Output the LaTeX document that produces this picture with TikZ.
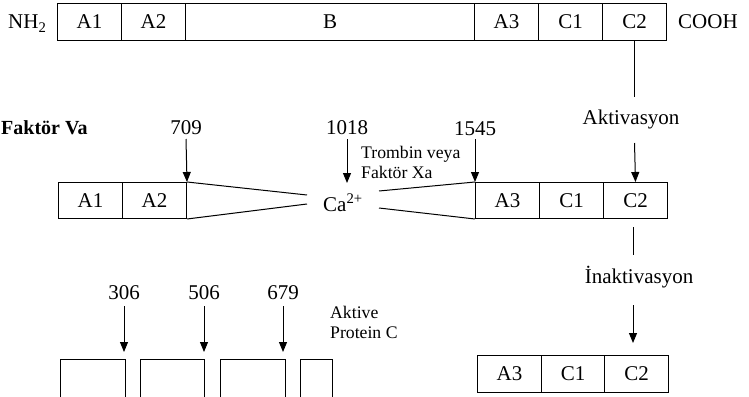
\documentclass[tikz,border=0pt]{standalone}
\usepackage{fontspec}
\setmainfont{Liberation Serif}
\usetikzlibrary{arrows.meta}
\begin{document}
\begin{tikzpicture}[x=1pt,y=-1pt,
  every node/.style={font=\fontsize{21}{25}\selectfont},
  seg/.style={draw, line width=1pt, inner sep=0pt, anchor=north west},
  lbl/.style={inner sep=1pt},
  small/.style={inner sep=1pt, anchor=base west, font=\fontsize{17.7}{21}\selectfont},
  ln/.style={line width=1pt},
  arr/.style={line width=1pt, -{Triangle[width=8pt,length=10pt]}}]
\useasboundingbox (0,0) rectangle (749,396);
% top bar
\node[seg, minimum width=64pt, minimum height=37pt] (ta1) at (57,3) {A1};
\node[seg, minimum width=64pt, minimum height=37pt] (ta2) at (121,3) {A2};
\node[seg, minimum width=289pt, minimum height=37pt] (tb) at (185,3) {B};
\node[seg, minimum width=64pt, minimum height=37pt] (ta3) at (474,3) {A3};
\node[seg, minimum width=64pt, minimum height=37pt] (tc1) at (538,3) {C1};
\node[seg, minimum width=64pt, minimum height=37pt] (tc2) at (602,3) {C2};
\node[lbl, anchor=base west] (nh2) at (7,29) {NH\textsubscript{2}};
\node[lbl, anchor=base west] (cooh) at (677,29) {COOH};
% activation
\coordinate (ak1) at (tc2.south |- 0,97);
\draw[ln] (tc2.south) -- (ak1);
\node[lbl, anchor=base] (akt) at (631,124) {Aktivasyon};
\coordinate (ak2) at (tc2.south |- 0,143);
% middle row
\node[lbl, anchor=base west, font=\fontsize{20}{24}\selectfont\bfseries] (fva) at (0,134) {Faktör Va};
\node[seg, minimum width=64pt, minimum height=36pt] (ma1) at (58,182) {A1};
\node[seg, minimum width=64pt, minimum height=36pt] (ma2) at (122,182) {A2};
\node[seg, minimum width=64pt, minimum height=36pt] (ma3) at (475,182) {A3};
\node[seg, minimum width=64pt, minimum height=36pt] (mc1) at (539,182) {C1};
\node[seg, minimum width=64pt, minimum height=36pt] (mc2) at (603,182) {C2};
\draw[arr] (ak2) -- (mc2.north);
\node[lbl, anchor=base west] (ca) at (322,211) {Ca\textsuperscript{2+}};
\coordinate (l1) at (307,195);
\coordinate (l2) at (307,204);
\coordinate (r1) at (379,191);
\coordinate (r2) at (379,208);
\draw[ln] (ma2.north east) -- (l1);
\draw[ln] (ma2.south east) -- (l2);
\draw[ln] (r1) -- (ma3.north west);
\draw[ln] (r2) -- (ma3.south west);
\node[lbl, anchor=base] (n709) at (186,134) {709};
\node[lbl, anchor=base] (n1018) at (347,134) {1018};
\node[lbl, anchor=base] (n1545) at (475,135) {1545};
\coordinate (c1018) at (347,183);
\coordinate (s709) at (186,139);
\coordinate (s1018) at (347,139);
\coordinate (s1545) at (475,139);
\draw[arr] (s709) -- (ma2.north east);
\draw[arr] (s1018) -- (c1018);
\draw[arr] (s1545) -- (ma3.north west);
\node[small] (trom) at (360,158) {Trombin veya};
\node[small] (fxa) at (360,178) {Faktör Xa};
% inactivation
\coordinate (in1) at (633,227);
\coordinate (in2) at (633,255);
\draw[ln] (in1) -- (in2);
\node[lbl, anchor=base] (inakt) at (639,283) {İnaktivasyon};
\coordinate (in3) at (633,305);
\coordinate (in4) at (633,343);
\draw[arr] (in3) -- (in4);
\node[seg, minimum width=64pt, minimum height=37pt] (ba3) at (477,355) {A3};
\node[seg, minimum width=63pt, minimum height=37pt] (bc1) at (541,355) {C1};
\node[seg, minimum width=64pt, minimum height=37pt] (bc2) at (604,355) {C2};
% bottom left fragments
\begin{scope}
\clip (0,0) rectangle (749,396);
\node[seg, minimum width=65pt, minimum height=45pt] (f1) at (60,359) {};
\node[seg, minimum width=64pt, minimum height=45pt] (f2) at (140,359) {};
\node[seg, minimum width=65pt, minimum height=45pt] (f3) at (220,359) {};
\node[seg, minimum width=32pt, minimum height=45pt] (f4) at (300,359) {};
\end{scope}
\node[lbl, anchor=base] (n306) at (124,299) {306};
\node[lbl, anchor=base] (n506) at (204,299) {506};
\node[lbl, anchor=base] (n679) at (283,299) {679};
\coordinate (s306) at (124,306);
\coordinate (s506) at (204,306);
\coordinate (s679) at (283,306);
\coordinate (e306) at (124,352);
\coordinate (e506) at (204,352);
\coordinate (e679) at (283,352);
\draw[arr] (s306) -- (e306);
\draw[arr] (s506) -- (e506);
\draw[arr] (s679) -- (e679);
\node[small] (akp1) at (329,318) {Aktive};
\node[small] (akp2) at (329,338) {Protein C};
\end{tikzpicture}
\end{document}
